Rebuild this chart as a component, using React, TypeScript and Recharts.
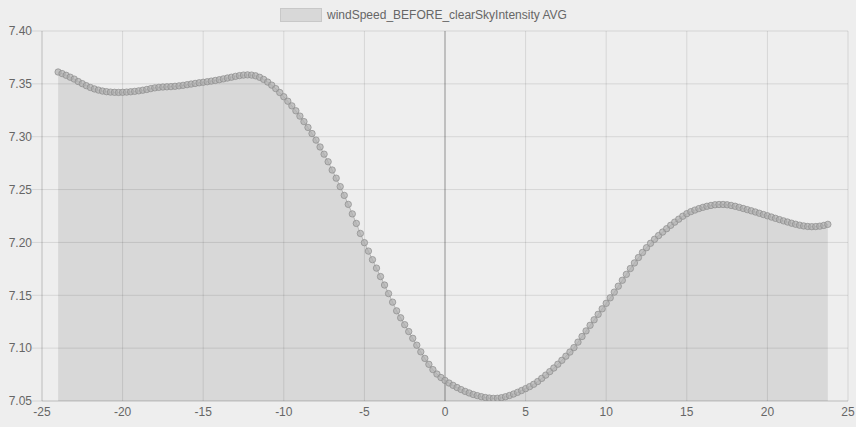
import React from "react";
import { ComposedChart, Area, XAxis, YAxis, CartesianGrid, ReferenceLine } from "recharts";

const SERIES_NAME = "windSpeed_BEFORE_clearSkyIntensity AVG";
const X_START = -24;
const X_STEP = 0.25;

const windSpeedAvg: number[] = [
  7.3612, 7.3597, 7.3581, 7.3563, 7.3545, 7.3522, 7.3502, 7.3483, 7.3466, 7.3452,
  7.3441, 7.3432, 7.3426, 7.3422, 7.3420, 7.3419, 7.3420, 7.3422, 7.3425, 7.3429,
  7.3434, 7.3440, 7.3447, 7.3455, 7.3462, 7.3467, 7.3470, 7.3472, 7.3474, 7.3477,
  7.3481, 7.3486, 7.3492, 7.3498, 7.3504, 7.3510, 7.3515, 7.3520, 7.3526, 7.3532,
  7.3539, 7.3547, 7.3555, 7.3563, 7.3571, 7.3578, 7.3583, 7.3585,
  7.3583, 7.3576, 7.3562, 7.3542, 7.3517, 7.3488, 7.3455, 7.3418, 7.3378, 7.3336,
  7.3292, 7.3245, 7.3195, 7.3143, 7.3088, 7.3030, 7.2968, 7.2903, 7.2835, 7.2763,
  7.2685, 7.2608, 7.2528, 7.2445, 7.2360, 7.2270, 7.2180, 7.2085, 7.1998, 7.1918,
  7.1837, 7.1757, 7.1677, 7.1597, 7.1516, 7.1435, 7.1353, 7.1287, 7.1222, 7.1157,
  7.1093, 7.1028, 7.0965, 7.0903, 7.0847, 7.0797, 7.0755, 7.0722, 7.0695, 7.0670,
  7.0648, 7.0627, 7.0608, 7.0591, 7.0576, 7.0562, 7.0551, 7.0541, 7.0533, 7.0528,
  7.0525, 7.0526, 7.0531, 7.0540, 7.0552, 7.0566, 7.0582, 7.0599, 7.0617, 7.0636,
  7.0658, 7.0684, 7.0714, 7.0745, 7.0778, 7.0812, 7.0848, 7.0885, 7.0924, 7.0963,
  7.1005, 7.1057, 7.1110, 7.1163, 7.1216, 7.1268, 7.1320, 7.1372, 7.1424, 7.1476,
  7.1530, 7.1586, 7.1642, 7.1698, 7.1753, 7.1806, 7.1857, 7.1905, 7.1950, 7.1992,
  7.2030, 7.2065, 7.2098, 7.2130, 7.2162, 7.2192, 7.2220, 7.2248, 7.2272, 7.2291,
  7.2306, 7.2320, 7.2332, 7.2342, 7.2350, 7.2356, 7.2359, 7.2359, 7.2356, 7.2350,
  7.2342, 7.2332, 7.2321, 7.2310, 7.2299, 7.2288, 7.2276, 7.2264, 7.2252, 7.2240,
  7.2228, 7.2216, 7.2204, 7.2193, 7.2182, 7.2172, 7.2163, 7.2156, 7.2151, 7.2149,
  7.2150, 7.2154, 7.2161, 7.2171,
];

const xTicks: number[] = [-25, -20, -15, -10, -5, 0, 5, 10, 15, 20, 25];
const yTicks: number[] = [7.05, 7.1, 7.15, 7.2, 7.25, 7.3, 7.35, 7.4];

const data = windSpeedAvg.map((v, i) => ({ x: X_START + i * X_STEP, v }));

const FONT = "'Liberation Sans', Arial, sans-serif";
const GRID = "rgba(0,0,0,0.1)";

export default function App() {
  return (
    <div style={{ position: "absolute", left: 0, top: 0, width: 856, height: 427, background: "#eeeeee", fontFamily: FONT }}>
      <div style={{ position: "absolute", left: 280, top: 8, display: "flex", alignItems: "center", fontSize: 12, color: "#666" }}>
        <div style={{ width: 40, height: 12, background: "#d8d8d8", border: "1px solid #c8c8c8", marginRight: 5 }} />
        <span>{SERIES_NAME}</span>
      </div>
      <ComposedChart width={856} height={427} data={data} margin={{ top: 31, right: 8, bottom: 0, left: 0 }}>
        <CartesianGrid stroke={GRID} horizontal vertical />
        <XAxis
          dataKey="x"
          type="number"
          domain={[-25, 25]}
          ticks={xTicks}
          height={26}
          tickSize={0}
          tickMargin={6}
          axisLine={{ stroke: GRID }}
          tick={{ fill: "#666", fontSize: 12, fontFamily: FONT }}
          interval={0}
        />
        <YAxis
          type="number"
          domain={[7.05, 7.4]}
          ticks={yTicks}
          width={42}
          tickSize={10}
          tickMargin={0}
          tickLine={{ stroke: GRID }}
          axisLine={{ stroke: GRID }}
          tickFormatter={(v: number) => v.toFixed(2)}
          tick={{ fill: "#666", fontSize: 12, fontFamily: FONT }}
          interval={0}
          allowDataOverflow
        />
        <ReferenceLine x={0} stroke="rgba(0,0,0,0.3)" />
        <Area
          type="monotone"
          dataKey="v"
          name={SERIES_NAME}
          stroke="rgba(160,160,160,0.7)"
          strokeWidth={1}
          fill="rgba(0,0,0,0.09)"
          fillOpacity={1}
          baseValue={7.05}
          isAnimationActive={false}
          dot={{ r: 3.2, fill: "rgba(175,175,175,0.7)", stroke: "rgba(140,140,140,0.7)", strokeWidth: 1 }}
          activeDot={false}
        />
      </ComposedChart>
    </div>
  );
}
